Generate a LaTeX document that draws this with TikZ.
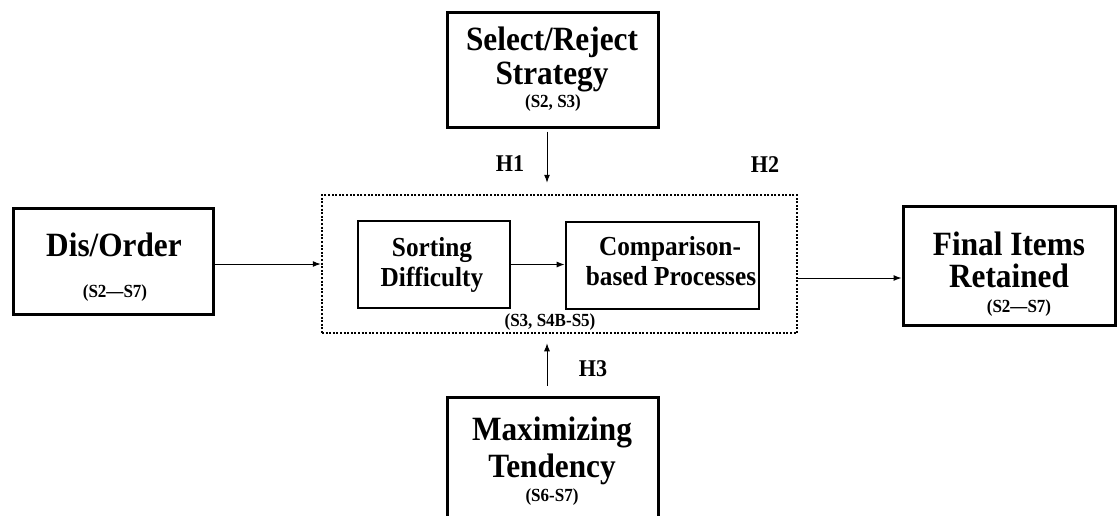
\documentclass[tikz,border=0pt]{standalone}
\usepackage{fontspec}
\setmainfont{Liberation Serif}[FakeStretch=0.92]
\usetikzlibrary{arrows.meta,fit}
\newcommand\fsz[1]{\fontsize{#1}{#1}\selectfont}
\tikzset{
  box/.style={draw=black, line width=3pt, inner sep=0pt, fill=white},
  innerbox/.style={draw=black, line width=2.7pt, inner sep=0pt},
  group/.style={draw=black, line width=2.5pt, inner sep=0pt, dash pattern=on 2pt off 1.6pt},
  txt/.style={inner sep=0pt, anchor=base, font=\bfseries},
  big/.style={txt, font=\bfseries\fsz{34}},
  mid/.style={txt, font=\bfseries\fsz{27.5}},
  small/.style={txt, font=\bfseries\fsz{18.5}},
  hyp/.style={txt, font=\bfseries\fsz{24}},
  link/.style={line width=1pt, -{Latex[length=8pt,width=6pt]}},
}
\begin{document}
\begin{tikzpicture}[x=1pt, y=-1pt]
\useasboundingbox (0,0) rectangle (1117,515);

% boxes
\node[box, fit={(13,208)(213,314)}] (dis) {};
\node[box, fit={(447,12)(658,127)}] (sel) {};
\node[box, fit={(447,397)(658,528)}] (max) {};
\node[box, fit={(903,206)(1115,325)}] (fin) {};
\node[group, fit={(322,195)(797,333)}] (grp) {};
\node[innerbox, fit={(358,221)(510,308)}] (sort) {};
\node[innerbox, fit={(566,222)(759,309)}] (comp) {};

% box texts
\node[big] (disT) at (114,256) {Dis/Order};
\node[small] (disS) at (115,297) {(S2\textemdash S7)};

\node[big] (selT1) at (552,50) {Select/Reject};
\node[big] (selT2) at (552,84) {Strategy};
\node[small] (selS) at (553,107) {(S2, S3)};

\node[big] (maxT1) at (552,440) {Maximizing};
\node[big] (maxT2) at (552,477) {Tendency};
\node[small] (maxS) at (552,501) {(S6-S7)};

\node[big] (finT1) at (1009,255) {Final Items};
\node[big] (finT2) at (1009,287) {Retained};
\node[small] (finS) at (1019,312) {(S2\textemdash S7)};

\node[mid] (sortT1) at (432,256) {Sorting};
\node[mid] (sortT2) at (432,286) {Difficulty};

\node[mid] (compT1) at (670,255) {Comparison-};
\node[mid] (compT2) at (671,285) {based Processes};

\node[small] (grpS) at (550,326) {(S3, S4B-S5)};

% hypothesis labels
\node[hyp] (h1) at (510,171) {H1};
\node[hyp] (h2) at (765,172) {H2};
\node[hyp] (h3) at (593,376) {H3};

% connectors
\draw[link] (dis.east |- grp.center) -- (grp.west);
\draw[link] (sort.east) -- (sort.east -| comp.west);
\draw[link] ([yshift=-14pt]grp.east) -- ([yshift=-14pt]grp.east -| fin.west);
\draw[link, shorten <=3pt, shorten >=11pt] ([xshift=-5.5pt]sel.south) -- ([xshift=-5.5pt]sel.south |- grp.north);
\draw[link, shorten <=10pt, shorten >=9pt] ([xshift=-5.5pt]max.north) -- ([xshift=-5.5pt]max.north |- grp.south);
\end{tikzpicture}
\end{document}
